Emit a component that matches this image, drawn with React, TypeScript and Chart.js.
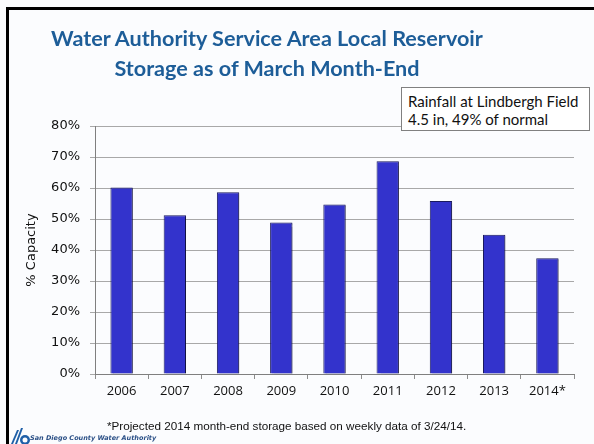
import React, { useEffect, useRef } from "react";
import { Chart, registerables } from "chart.js";

Chart.register(...registerables);

const categories = ["2006", "2007", "2008", "2009", "2010", "2011", "2012", "2013", "2014*"];
const capacityPct = [60.2, 51.2, 58.6, 48.9, 54.7, 68.6, 55.8, 44.9, 37.3];
const yTicks = [0, 10, 20, 30, 40, 50, 60, 70, 80];

const titleLines = ["Water Authority Service Area Local Reservoir", "Storage as of March Month-End"];
const boxLines = ["Rainfall at Lindbergh Field", "4.5 in, 49% of normal"];
const footnote = "*Projected 2014 month-end storage based on weekly data of 3/24/14.";
const orgName = "San Diego County Water Authority";

const barShadow = {
  id: "barShadow",
  beforeDatasetDraw(chart: any) {
    const ctx = chart.ctx;
    ctx.save();
    ctx.shadowColor = "rgba(0,0,0,0.28)";
    ctx.shadowOffsetX = 2;
    ctx.shadowOffsetY = 1;
    ctx.shadowBlur = 1;
  },
  afterDatasetDraw(chart: any) {
    chart.ctx.restore();
  },
};

export default function App() {
  const ref = useRef<HTMLCanvasElement | null>(null);

  useEffect(() => {
    document.body.style.margin = "0";
    if (!ref.current) return;
    const chart = new Chart(ref.current, {
      type: "bar",
      data: {
        labels: categories,
        datasets: [
          {
            data: capacityPct,
            backgroundColor: "#3333cc",
            borderColor: "#1a1a5e",
            borderWidth: 1,
            borderSkipped: "bottom",
            categoryPercentage: 1,
            barPercentage: 0.42,
          },
        ],
      },
      plugins: [barShadow],
      options: {
        animation: false,
        responsive: true,
        maintainAspectRatio: false,
        layout: { padding: { left: 20, top: 126, right: 20, bottom: 0 } },
        plugins: {
          legend: { display: false },
          title: { display: false },
          tooltip: { enabled: false },
        },
        scales: {
          x: {
            afterFit: (s: any) => {
              s.height = 70;
            },
            grid: {
              offset: true,
              drawOnChartArea: false,
              drawTicks: true,
              tickLength: 5,
              color: "#8c8c8c",
            },
            border: { display: true, color: "#7f7f7f", width: 1 },
            ticks: {
              color: "#111111",
              padding: 4,
              font: { family: "'Open Sans'", size: 13 },
              maxRotation: 0,
              autoSkip: false,
            },
          },
          y: {
            min: 0,
            max: 80,
            afterFit: (s: any) => {
              s.width = 75;
            },
            afterBuildTicks: (s: any) => {
              s.ticks = yTicks.map((v) => ({ value: v }));
            },
            grid: {
              color: "#a8a8a8",
              lineWidth: 1,
              drawTicks: true,
              tickLength: 5,
            },
            border: { display: true, color: "#7f7f7f", width: 1 },
            ticks: {
              color: "#111111",
              padding: 10,
              font: { family: "'DejaVu Sans'", size: 13 },
              callback: (v: any) => v + "%",
            },
            title: {
              display: true,
              text: "% Capacity",
              color: "#111111",
              padding: 4,
              font: { family: "'DejaVu Sans'", size: 13 },
            },
          },
        },
      },
    });
    return () => chart.destroy();
  }, []);

  return (
    <div
      style={{
        position: "fixed",
        left: 0,
        top: 0,
        width: 594,
        height: 444,
        background: "#fbfcfe",
        overflow: "hidden",
      }}
    >
      <div
        style={{
          position: "absolute",
          left: 6,
          top: 7,
          width: 600,
          height: 3,
          background: "#000",
        }}
      />
      <div
        style={{
          position: "absolute",
          left: 6,
          top: 7,
          width: 3,
          height: 440,
          background: "#000",
        }}
      />
      <div style={{ position: "absolute", left: 0, top: 0, width: 594, height: 444 }}>
        <canvas ref={ref} />
      </div>
      <div
        style={{
          position: "absolute",
          left: 17,
          top: 23,
          width: 500,
          textAlign: "center",
          fontFamily: "Lato",
          fontWeight: 700,
          fontSize: 21.6,
          lineHeight: "30px",
          color: "#1d5d98",
        }}
      >
        {titleLines.map((l, i) => (
          <div key={i}>{l}</div>
        ))}
      </div>
      <div
        style={{
          position: "absolute",
          left: 401,
          top: 87,
          width: 187,
          height: 42,
          border: "1px solid #808080",
          background: "#ffffff",
          boxSizing: "content-box",
          fontFamily: "Lato",
          fontSize: 15,
          lineHeight: "18px",
          color: "#111",
          paddingLeft: 0,
        }}
      >
        <div style={{ paddingLeft: 6, paddingTop: 4 }}>
          {boxLines.map((l, i) => (
            <div key={i}>{l}</div>
          ))}
        </div>
      </div>
      <div
        style={{
          position: "absolute",
          left: 107,
          top: 419,
          fontFamily: "'Liberation Sans'",
          fontSize: 11.7,
          lineHeight: "14px",
          color: "#111",
          whiteSpace: "nowrap",
        }}
      >
        {footnote}
      </div>
      <svg
        style={{ position: "absolute", left: 9, top: 424 }}
        width={22}
        height={20}
        viewBox="0 0 22 20"
      >
        <path d="M2 20 L8 6 L10 6 L4 20 Z" fill="#1e5fa8" />
        <path d="M6 20 L12 4 L14 4 L8 20 Z" fill="#1e5fa8" />
        <circle cx="16" cy="16" r="5" fill="#1e5fa8" />
        <circle cx="16" cy="16" r="2.5" fill="#fbfcfe" />
      </svg>
      <div
        style={{
          position: "absolute",
          left: 30,
          top: 434,
          fontFamily: "'DejaVu Sans'",
          fontStyle: "italic",
          fontWeight: 700,
          fontSize: 6.5,
          lineHeight: "8px",
          color: "#2a4f86",
          whiteSpace: "nowrap",
        }}
      >
        {orgName}
      </div>
    </div>
  );
}
